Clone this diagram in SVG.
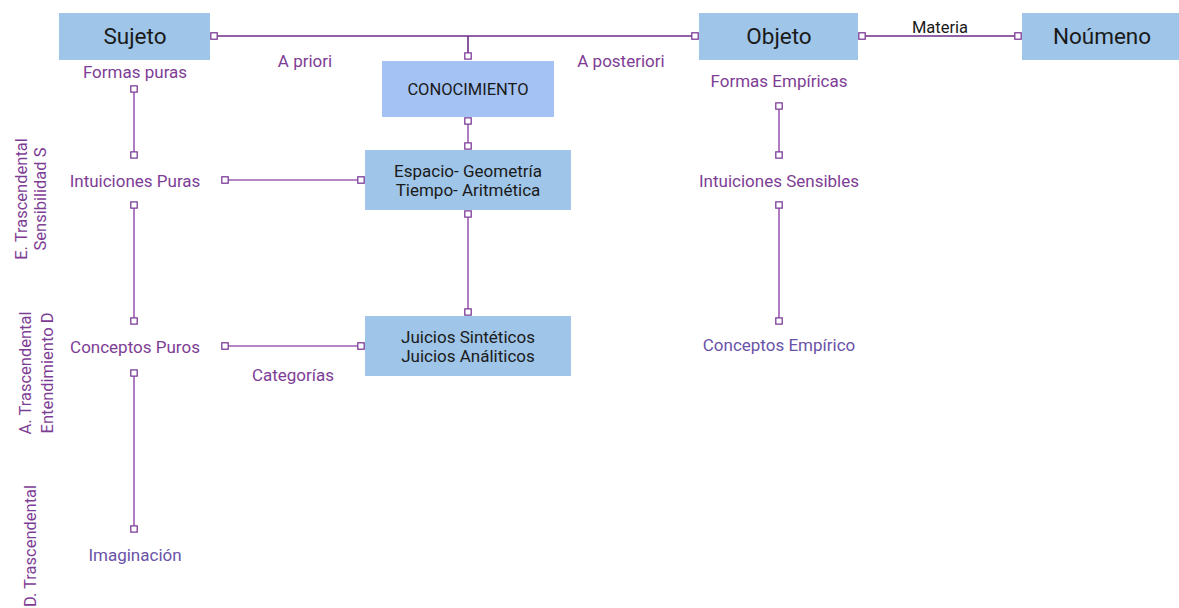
<svg xmlns="http://www.w3.org/2000/svg" width="1179" height="608" viewBox="0 0 1179 608">
<defs>
<style>
.box{fill:#9fc5e8;}
.box2{fill:#a4c2f4;}
.t{font-family:Roboto,"Liberation Sans",sans-serif;text-anchor:middle;fill:#1a1a1a;}
.big{font-size:22.5px;}
.mid{font-size:17px;}
.lbl{font-family:Roboto,"Liberation Sans",sans-serif;text-anchor:middle;font-size:17px;fill:#7e3d95;}
.lbl2{fill:#6a52a8;}
.side{font-family:Roboto,"Liberation Sans",sans-serif;text-anchor:middle;font-size:16.5px;fill:#7e3d95;}
.c{fill:none;stroke:#9c5cb4;stroke-width:1.6;marker-start:url(#sq);marker-end:url(#sq);}
.cd{stroke:#6b2c88;}
</style>
<marker id="sq" viewBox="0 0 10 10" refX="5" refY="5" markerWidth="8" markerHeight="8" markerUnits="userSpaceOnUse" orient="auto">
<rect x="1" y="1" width="8" height="8" fill="#fff" stroke="#7b3a96" stroke-width="1.6"/>
</marker>
</defs>
<rect width="1179" height="608" fill="#fff"/>

<g id="connectors">
<path class="c cd" d="M214 36 H695"/>
<path class="c cd" d="M468 36 V56" style="marker-start:none"/>
<path class="c cd" d="M862 36 H1018"/>
<path class="c" d="M134 89 V155"/>
<path class="c" d="M134 205 V321"/>
<path class="c" d="M134 373 V529"/>
<path class="c" d="M225 180 H361"/>
<path class="c" d="M225 346 H361"/>
<path class="c" d="M468 121 V146"/>
<path class="c" d="M468 214 V312"/>
<path class="c" d="M779 106 V155"/>
<path class="c" d="M779 205 V321"/>
</g>

<g id="sujeto"><rect class="box" x="59" y="13" width="151" height="47"/><text class="t big" x="135" y="44">Sujeto</text></g>
<g id="objeto"><rect class="box" x="699" y="13" width="159" height="47"/><text class="t big" x="779" y="44">Objeto</text></g>
<g id="noumeno"><rect class="box" x="1022" y="13" width="157" height="47"/><text class="t big" x="1102" y="44">Noúmeno</text></g>
<g id="conocimiento"><rect class="box2" x="382" y="61" width="172" height="56"/><text class="t" x="468" y="95" font-size="16.5">CONOCIMIENTO</text></g>
<g id="espacio"><rect class="box" x="365" y="150" width="206" height="60"/><text class="t mid" x="468" y="177">Espacio- Geometría</text><text class="t mid" x="468" y="196">Tiempo- Aritmética</text></g>
<g id="juicios"><rect class="box" x="365" y="316" width="206" height="60"/><text class="t mid" x="468" y="343">Juicios Sintéticos</text><text class="t mid" x="468" y="362">Juicios Análiticos</text></g>

<g id="labels">
<text class="t" x="940" y="33" font-size="16.5">Materia</text>
<text class="lbl" x="305" y="67">A priori</text>
<text class="lbl" x="621" y="67">A posteriori</text>
<text class="lbl" x="135" y="78">Formas puras</text>
<text class="lbl" x="135" y="187">Intuiciones Puras</text>
<text class="lbl" x="135" y="353">Conceptos Puros</text>
<text class="lbl" x="293" y="381">Categorías</text>
<text class="lbl lbl2" x="135" y="561">Imaginación</text>
<text class="lbl" x="779" y="87">Formas Empíricas</text>
<text class="lbl" x="779" y="187">Intuiciones Sensibles</text>
<text class="lbl lbl2" x="779" y="351">Conceptos Empírico</text>
</g>

<g id="side-labels">
<text class="side" transform="translate(27,199) rotate(-90)">E. Trascendental</text>
<text class="side" transform="translate(46,199) rotate(-90)">Sensibilidad S</text>
<text class="side" transform="translate(31,373) rotate(-90)">A. Trascendental</text>
<text class="side" transform="translate(53,373) rotate(-90)">Entendimiento D</text>
<text class="side" transform="translate(36,546) rotate(-90)">D. Trascendental</text>
</g>
</svg>
